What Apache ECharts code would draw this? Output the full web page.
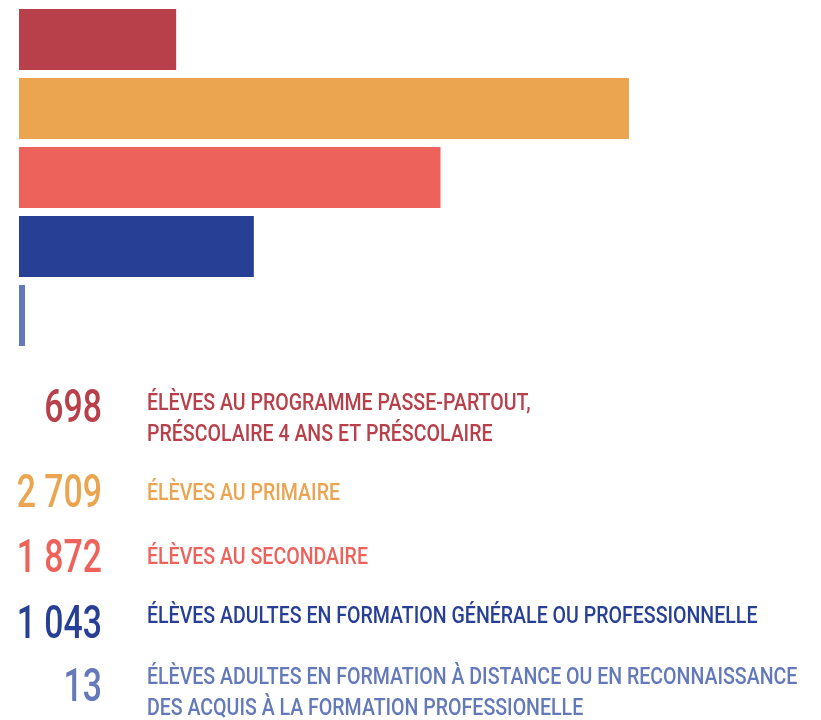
<!DOCTYPE html>
<html>
<head>
<meta charset="utf-8">
<script src="https://cdn.jsdelivr.net/npm/echarts@6/dist/echarts.min.js"></script>
<style>
  html, body { margin: 0; padding: 0; background: #fff; }
  #chart { width: 821px; height: 720px; }
</style>
</head>
<body>
<div id="chart"></div>
<script>
var categories = [
  'ÉLÈVES AU PROGRAMME PASSE-PARTOUT,\nPRÉSCOLAIRE 4 ANS ET PRÉSCOLAIRE',
  'ÉLÈVES AU PRIMAIRE',
  'ÉLÈVES AU SECONDAIRE',
  'ÉLÈVES ADULTES EN FORMATION GÉNÉRALE OU PROFESSIONNELLE',
  'ÉLÈVES ADULTES EN FORMATION À DISTANCE OU EN RECONNAISSANCE\nDES ACQUIS À LA FORMATION PROFESSIONELLE'
];
var values = [698, 2709, 1872, 1043, 13];

(function() {
  var colors = ['#b7404a', '#eba550', '#ee625c', '#283f96', '#6379ba'];
  var font = 'Roboto, "Noto Sans", sans-serif';

  // layout of the text block under the bars (no condensed font installed, so squeeze it)
  var numRight = 102, labelLeft = 147;
  var numY = [410, 495, 560, 626, 689];
  var labelY = [419, 494, 558, 617, 693];

  function fmt(v) {
    return String(v).replace(/\B(?=(\d{3})+(?!\d))/g, ' ');
  }

  var graphics = [];
  values.forEach(function(v, i) {
    graphics.push({
      type: 'text',
      x: numRight, y: numY[i],
      scaleX: 0.72,
      style: {
        text: fmt(v), fill: colors[i],
        font: '500 47px ' + font,
        textAlign: 'right', textVerticalAlign: 'middle'
      }
    });
    graphics.push({
      type: 'text',
      x: labelLeft, y: labelY[i],
      scaleX: 0.815,
      style: {
        text: categories[i], fill: colors[i],
        font: '500 24px ' + font, lineHeight: 31,
        textAlign: 'left', textVerticalAlign: 'middle'
      }
    });
  });

  var chart = echarts.init(document.getElementById('chart'), null, { renderer: 'canvas' });
  chart.setOption({
    animation: false,
    grid: { left: 19, right: 126.5, top: 5, height: 345 },
    xAxis: { type: 'value', min: 0, max: 3000, show: false },
    yAxis: {
      type: 'category', data: categories, inverse: true, show: false
    },
    series: [{
      type: 'bar',
      barCategoryGap: '11.6%',
      barMinHeight: 6,
      data: values.map(function(v, i) {
        return { value: v, itemStyle: { color: colors[i] } };
      })
    }],
    graphic: graphics
  });
})();
</script>
</body>
</html>
